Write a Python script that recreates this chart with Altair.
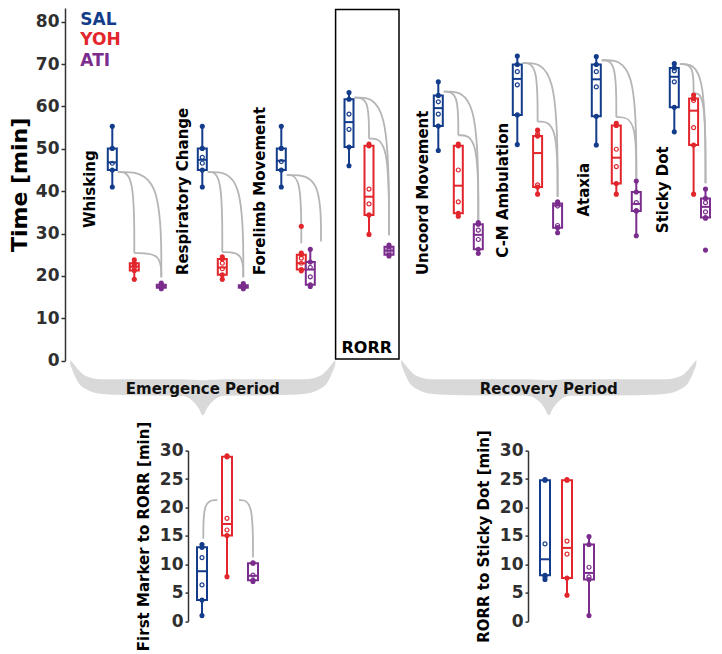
import altair as alt
import pandas as pd

# ---------------- data ----------------
TREATMENTS = ["SAL", "YOH", "ATI"]
TRT_COLORS = ["#133c8b", "#e2262c", "#7b2d8d"]

GROUPS = ["Whisking", "Respiratory Change", "Forelimb Movement", "RORR",
          "Uncoord Movement", "C-M Ambulation", "Ataxia", "Sticky Dot"]

SAL_MIN = [41.0, 41.0, 41.0, 46.0, 49.6, 51.0, 50.9, 54.0]
SAL_Q1 = [45.0, 45.0, 45.0, 50.4, 55.4, 58.0, 57.7, 59.8]
SAL_MED = [46.8, 47.4, 47.2, 56.3, 59.6, 66.5, 66.4, 67.0]
SAL_Q3 = [50.1, 50.1, 50.1, 61.7, 62.6, 69.9, 69.9, 69.1]
SAL_MAX = [55.3, 55.3, 55.3, 63.3, 65.8, 71.9, 71.8, 70.1]
SAL_PTS = [[46.6], [46.6, 48.0], [47.0], [54.6, 58.2], [58.2, 61.1],
           [65.1, 68.2], [64.6, 68.2], [65.8, 68.4]]
SAL_OUT = [[], [], [], [], [], [], [], []]

YOH_MIN = [19.2, 19.2, 21.2, 29.8, 34.1, 39.3, 39.3, 39.3]
YOH_Q1 = [21.3, 20.3, 21.5, 34.4, 34.8, 41.0, 41.8, 50.9]
YOH_MED = [22.2, 22.0, 23.0, 38.7, 41.3, 49.0, 47.9, 59.0]
YOH_Q3 = [23.0, 24.0, 25.0, 50.7, 50.7, 53.0, 55.5, 61.9]
YOH_MAX = [23.8, 24.5, 25.4, 51.1, 51.1, 54.4, 56.0, 62.7]
YOH_PTS = [[22.0, 22.5], [21.7, 23.0], [23.0, 24.2], [37.0, 40.5], [37.5, 45.0],
           [41.5, 53.5], [45.8, 49.9], [55.0, 61.4]]
YOH_OUT = [[], [], [31.7], [], [], [], [], []]

ATI_MIN = [17.0, 17.0, 17.5, 24.7, 25.3, 30.2, 29.5, 33.6]
ATI_Q1 = [17.2, 17.2, 17.9, 25.0, 26.3, 31.4, 35.3, 33.8]
ATI_MED = [17.5, 17.5, 21.5, 26.0, 29.7, 36.6, 37.0, 36.3]
ATI_Q3 = [17.9, 17.8, 23.3, 26.9, 32.2, 37.1, 39.8, 38.3]
ATI_MAX = [18.3, 18.2, 26.3, 27.3, 32.6, 37.5, 42.4, 40.5]
ATI_PTS = [[17.4], [17.5], [19.8, 22.0], [25.5, 26.4], [28.6, 30.8],
           [31.9, 36.5], [35.4, 37.3], [35.1, 37.3]]
ATI_OUT = [[], [], [], [], [], [], [], [26.1]]

# significance arcs in the main panel
ARC_GROUP = [0, 0, 0, 1, 1, 1, 2, 2, 3, 3, 3, 4, 4, 4, 5, 5, 5, 6, 6, 6, 7, 7, 7]
ARC_FROM = ["SAL", "YOH", "SAL", "SAL", "YOH", "SAL", "SAL", "SAL",
            "SAL", "YOH", "SAL", "SAL", "YOH", "SAL", "SAL", "YOH", "SAL",
            "SAL", "YOH", "SAL", "SAL", "YOH", "SAL"]
ARC_TO = ["YOH", "ATI", "ATI", "YOH", "ATI", "ATI", "YOH", "ATI",
          "YOH", "ATI", "ATI", "YOH", "ATI", "ATI", "YOH", "ATI", "ATI",
          "YOH", "ATI", "ATI", "YOH", "ATI", "ATI"]
ARC_Y0 = [44.5, 25.4, 44.5, 44.5, 25.6, 44.5, 43.8, 43.8, 62.1, 52.4, 62.1,
          63.5, 53.2, 63.5, 70.2, 56.4, 70.2, 70.9, 57.5, 70.9, 70.0, 63.1, 70.0]
ARC_Y1 = [25.4, 19.7, 19.7, 25.6, 19.7, 19.7, 27.7, 28.1, 52.4, 29.6, 29.6,
          53.2, 33.2, 33.2, 56.4, 38.7, 38.7, 57.5, 43.0, 43.0, 63.1, 41.9, 41.9]

# First Marker to RORR [min]  (min, q1, median, q3, max)
FM_SAL = [1.0, 3.75, 8.8, 13.0, 13.5]
FM_YOH = [7.85, 15.06, 17.1, 28.9, 29.1]
FM_ATI = [7.0, 7.2, 8.0, 10.2, 10.3]
FM_PTS = [[6.4, 11.2], [16.05, 18.1], [8.1]]
FM_ARC_Y0 = [14.5, 21.3]
FM_ARC_Y1 = [21.3, 11.2]

# RORR to Sticky Dot [min]
RS_SAL = [7.35, 8.1, 10.9, 24.8, 24.9]
RS_YOH = [4.6, 7.6, 12.9, 24.8, 24.9]
RS_ATI = [1.0, 7.35, 8.5, 13.5, 14.9]
RS_PTS = [[13.6, 7.8], [11.8, 14.1], [9.5, 7.8]]

# ---------------- layout ----------------
FONT = "DejaVu Sans"
ARC_COLOR = "#b5b5b5"
BRACE_COLOR = "#d9d9d9"
TOP_W, TOP_H, TOP_YMAX = 646, 352.7, 83.23
PX = TOP_H / TOP_YMAX
BOT_H = 170.7
TOP_BOX, BOT_BOX = 9, 10
NO_VIEW = alt.ViewBackground(stroke=None, strokeWidth=0, fill=None)

SLOT_X = {"SAL": [47.3, 137.3, 216.3, 284.0, 373.3, 452.3, 531.3, 609.3],
          "YOH": [69.3, 157.3, 236.3, 304.0, 393.3, 472.6, 551.3, 628.6],
          "ATI": [96.3, 178.3, 245.3, 324.0, 413.3, 492.6, 571.3, 640.5]}
ARC_START_DX = 5.5
ARC_END_DX = {(2, "SAL", "ATI"): 10.7}

LABEL_X = [25.3, 118.3, 195.3, None, 358.3, 438.3, 519.3, 598.3]
LABEL_Y = [31.3, 20.2, 20.2, None, 20.2, 24.3, 34.0, 30.1]
RORR_LABEL = (301.8, 3.1)
RORR_FRAME = (270.6, 334.0, 0.4, 82.9)
LEGEND_X = 15.3
LEGEND_TOP = [82.4, 77.45, 72.5]   # top of each legend word, in axis units

BRACES = [("Emergence Period", 5.3, 270.3), ("Recovery Period", 336.3, 631.3)]
ARM = [(0, -0.7, 4), (4, 4, 14), (8, 9, 22), (15, 15, 28), (30, 18.5, 33), (60, 18.5, 34.5)]
TIP = [(-21.5, 18.5, 35), (-10.5, 19, 40), (-4.5, 19.2, 47), (0, 19.5, 54.5)]
BRACE_TEXT_DEPTH = 28.3

FM_SLOTS = [14.0, 39.0, 65.0]
FM_ARC_X0 = [15.3, 51.0]
FM_ARC_X1 = [29.3, 65.0]
FM_ARC_STYLE = ["vh", "hv"]
RS_SLOTS = [17.0, 39.0, 61.0]
FM_W, RS_W, SPACER_W, BOT_SPACING = 320, 100, 102.3, 20

COLOR_SCALE = alt.Scale(domain=TREATMENTS, range=TRT_COLORS)


def arc_points(arc_id, x0, y0, x1, y1, style):
    if style == "hv":
        pts = [(x0, y0), (x1, y0), (x1, y1)]
    else:
        pts = [(x0, y0), (x0, y1), (x1, y1)]
    return [dict(arc=arc_id, k=k, ax=p[0], ay=p[1]) for k, p in enumerate(pts)]


def panel_layers(box_df, pts_df, out_df, arc_df, xs, ys, yaxis, box_size):
    X = lambda f: alt.X(f, type="quantitative", scale=xs, axis=None)
    Y = lambda f: alt.Y(f, type="quantitative", scale=ys, axis=yaxis)
    C = alt.Color("trt:N", scale=COLOR_SCALE, legend=None)
    base = alt.Chart(box_df)
    layers = []
    if len(arc_df):
        layers.append(alt.Chart(arc_df).mark_line(interpolate="basis", color=ARC_COLOR, strokeWidth=1.8).encode(
            x=X("ax"), y=Y("ay"), detail="arc:N", order=alt.Order("k:Q")))
    whisk = base.mark_rule(strokeWidth=2).encode(x=X("x"), y=Y("mn"), y2="mx", color=C)
    box = base.mark_bar(size=box_size, fill="white", strokeWidth=2, orient="vertical").encode(
        x=X("x"), y=Y("q1"), y2="q3", stroke=alt.Stroke("trt:N", scale=COLOR_SCALE, legend=None))
    med = base.mark_rule(strokeWidth=2).encode(x=X("xl"), x2="xr", y=Y("med"), color=C)
    dots = base.transform_fold(["mn", "q1", "q3", "mx"], as_=["stat", "v"]).mark_circle(
        size=26, opacity=1).encode(x=X("x"), y=Y("v"), color=C)
    layers += [whisk, box, med, dots]
    if len(out_df):
        layers.append(alt.Chart(out_df).mark_circle(size=26, opacity=1).encode(
            x=X("x"), y=Y("v"), color=C))
    layers.append(alt.Chart(pts_df).mark_point(filled=False, size=16, strokeWidth=1.2, opacity=1).encode(
        x=X("x"), y=Y("v"), color=C))
    return layers, X, Y, C


# ---------------- main panel tables ----------------
rows, pts, outs = [], [], []
series = [("SAL", SAL_MIN, SAL_Q1, SAL_MED, SAL_Q3, SAL_MAX, SAL_PTS, SAL_OUT),
          ("YOH", YOH_MIN, YOH_Q1, YOH_MED, YOH_Q3, YOH_MAX, YOH_PTS, YOH_OUT),
          ("ATI", ATI_MIN, ATI_Q1, ATI_MED, ATI_Q3, ATI_MAX, ATI_PTS, ATI_OUT)]
for trt, mn, q1, md, q3, mx, pl, ol in series:
    for g in range(len(GROUPS)):
        x = SLOT_X[trt][g]
        rows.append(dict(trt=trt, group=GROUPS[g], x=x, mn=mn[g], q1=q1[g], med=md[g], q3=q3[g], mx=mx[g],
                         xl=x - TOP_BOX / 2, xr=x + TOP_BOX / 2))
        pts += [dict(trt=trt, x=x, v=v) for v in pl[g]]
        outs += [dict(trt=trt, x=x, v=v) for v in ol[g]]
top_box = pd.DataFrame(rows)
top_pts = pd.DataFrame(pts)
top_out = pd.DataFrame(outs)

arc_rows = []
for i, (g, f, t, y0, y1) in enumerate(zip(ARC_GROUP, ARC_FROM, ARC_TO, ARC_Y0, ARC_Y1)):
    x0 = SLOT_X[f][g] + (ARC_START_DX if f == "SAL" else 0)
    x1 = SLOT_X[t][g] + ARC_END_DX.get((g, f, t), 0)
    arc_rows += arc_points(i, x0, y0, x1, y1, "hv")
top_arcs = pd.DataFrame(arc_rows)

brace_rows, brace_txt = [], []
for name, bx0, bx1 in BRACES:
    mid = (bx0 + bx1) / 2
    prof = [(bx0 + d, a, b) for d, a, b in ARM] + [(mid + d, a, b) for d, a, b in TIP]
    prof += [(2 * mid - x, a, b) for x, a, b in reversed(prof[:-1])]
    for x, a, b in prof:
        brace_rows.append(dict(brace=name, bx=x, top=-a / PX, bot=-b / PX))
    brace_txt.append(dict(txt=name, tx=mid, ty=-BRACE_TEXT_DEPTH / PX))
brace_df = pd.DataFrame(brace_rows)
brace_txt_df = pd.DataFrame(brace_txt)

label_df = pd.DataFrame([dict(txt=GROUPS[g], lx=LABEL_X[g], ly=LABEL_Y[g])
                         for g in range(len(GROUPS)) if LABEL_X[g] is not None])
legend_df = pd.DataFrame(dict(trt=TREATMENTS, lx=[LEGEND_X] * 3, ly=LEGEND_TOP))
frame_df = pd.DataFrame([dict(x0=RORR_FRAME[0], x1=RORR_FRAME[1], y0=RORR_FRAME[2], y1=RORR_FRAME[3])])
rorr_df = pd.DataFrame([dict(txt="RORR", lx=RORR_LABEL[0], ly=RORR_LABEL[1])])

top_xs = alt.Scale(domain=[0, TOP_W], nice=False, zero=False, padding=0)
top_ys = alt.Scale(domain=[0, TOP_YMAX], nice=False, zero=False, padding=0)
top_axis = alt.Axis(title="Time [min]", values=list(range(0, 81, 10)), grid=False,
                    domainColor="#333333", domainWidth=1.5, tickColor="#333333", tickSize=4, tickWidth=1.5,
                    labelFont=FONT, labelFontSize=17, labelFontWeight="bold", labelColor="#2f2f2f",
                    labelPadding=2, titleFont=FONT, titleFontSize=22, titleFontWeight="bold",
                    titleColor="black", titlePadding=4)

layers, X, Y, C = panel_layers(top_box, top_pts, top_out, top_arcs, top_xs, top_ys, top_axis, TOP_BOX)

braces = alt.Chart(brace_df).mark_area(interpolate="monotone", color=BRACE_COLOR, opacity=1).encode(
    x=X("bx"), y=Y("top"), y2="bot", detail="brace:N")
brace_text = alt.Chart(brace_txt_df).mark_text(font=FONT, fontSize=15, fontWeight="bold", color="#111111",
                                               baseline="middle").encode(x=X("tx"), y=Y("ty"), text="txt:N")
frame = alt.Chart(frame_df).mark_rect(fillOpacity=0, stroke="black", strokeWidth=1.5).encode(
    x=X("x0"), x2="x1", y=Y("y0"), y2="y1")
labels = alt.Chart(label_df).mark_text(font=FONT, fontSize=15, fontWeight="bold", color="black",
                                       angle=270, align="left", baseline="middle").encode(
    x=X("lx"), y=Y("ly"), text="txt:N")
rorr_lbl = alt.Chart(rorr_df).mark_text(font=FONT, fontSize=16, fontWeight="bold", color="black",
                                        baseline="middle").encode(x=X("lx"), y=Y("ly"), text="txt:N")
legend = alt.Chart(legend_df).mark_text(font=FONT, fontSize=17, fontWeight="bold", align="left",
                                        baseline="top").encode(x=X("lx"), y=Y("ly"), text="trt:N", color=C)

top = alt.layer(braces, brace_text, frame, *layers, labels, rorr_lbl, legend).properties(
    width=TOP_W, height=TOP_H, view=NO_VIEW)


# ---------------- bottom panels ----------------
def small_panel(stats, pts_lists, slots, width, title, arc_df):
    rows, pts = [], []
    for trt, st, pl, x in zip(TREATMENTS, stats, pts_lists, slots):
        rows.append(dict(trt=trt, x=x, mn=st[0], q1=st[1], med=st[2], q3=st[3], mx=st[4],
                         xl=x - BOT_BOX / 2, xr=x + BOT_BOX / 2))
        pts += [dict(trt=trt, x=x, v=v) for v in pl]
    xs = alt.Scale(domain=[0, width], nice=False, zero=False, padding=0)
    ys = alt.Scale(domain=[0, 30], nice=False, zero=False, padding=0)
    axis = alt.Axis(title=title, values=list(range(0, 31, 5)), grid=False,
                    domainColor="#333333", domainWidth=1.5, tickColor="#333333", tickSize=3, tickWidth=1.5,
                    labelFont=FONT, labelFontSize=17, labelFontWeight="bold", labelColor="#2f2f2f",
                    labelPadding=2, titleFont=FONT, titleFontSize=15, titleFontWeight="bold",
                    titleColor="black", titlePadding=8)
    lay, _, _, _ = panel_layers(pd.DataFrame(rows), pd.DataFrame(pts), pd.DataFrame(),
                                arc_df, xs, ys, axis, BOT_BOX)
    return alt.layer(*lay).properties(width=width, height=BOT_H, view=NO_VIEW)


fm_arc_rows = []
for i in range(len(FM_ARC_Y0)):
    fm_arc_rows += arc_points(i, FM_ARC_X0[i], FM_ARC_Y0[i], FM_ARC_X1[i], FM_ARC_Y1[i], FM_ARC_STYLE[i])
fm_arcs = pd.DataFrame(fm_arc_rows)

fm = small_panel([FM_SAL, FM_YOH, FM_ATI], FM_PTS, FM_SLOTS, FM_W, "First Marker to RORR [min]", fm_arcs)
rs = small_panel([RS_SAL, RS_YOH, RS_ATI], RS_PTS, RS_SLOTS, RS_W, "RORR to Sticky Dot [min]", pd.DataFrame())

spacer = alt.Chart(pd.DataFrame({"s": [0, 1]})).mark_point(opacity=0, size=1).encode(
    x=alt.X("s:Q", axis=None), y=alt.Y("s:Q", axis=None)).properties(
    width=SPACER_W, height=BOT_H, view=NO_VIEW)

bottom = alt.hconcat(spacer, fm, rs, spacing=BOT_SPACING, bounds="flush")

chart = alt.vconcat(top, bottom, spacing=89.6, bounds="flush").properties(
    padding={"left": 0, "top": 0, "right": 0, "bottom": 0},
    autosize=alt.AutoSizeParams(type="pad"),
).configure_view(stroke=None, strokeWidth=0).configure_scale(
    continuousPadding=0).configure(background="white")

chart.save("out.html", embed_options={"renderer": "svg", "actions": False})
